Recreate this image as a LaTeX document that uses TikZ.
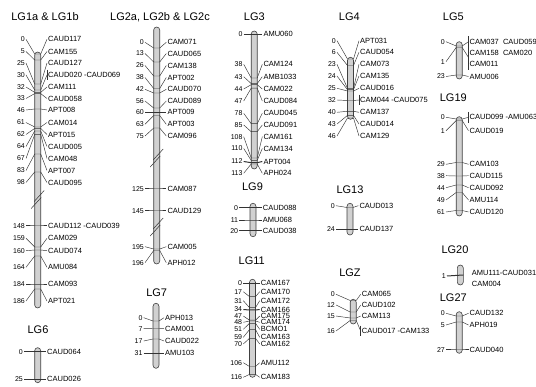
\documentclass[tikz,border=0pt]{standalone}
\usepackage{fontspec}
\setmainfont{Liberation Sans}
\usepackage{tikz}

\tikzset{
  bar/.style={draw=black!75, fill=black!18, line width=0.6pt, rounded corners=3pt},
  ln/.style={draw=black!80, line width=0.45pt},
  num/.style={anchor=east, inner sep=1pt, font=\fontsize{7}{8}\selectfont, text height=5pt, text depth=0pt},
  nam/.style={anchor=west, inner sep=1pt, font=\fontsize{7.5}{8}\selectfont, text height=5.4pt, text depth=0pt},
  ttl/.style={font=\fontsize{11}{12}\selectfont}
}

% current group: bar centre, number anchor, name anchor
\newcommand{\setlg}[3]{\def\cx{#1}\def\nx{#2}\def\mx{#3}}
\newcommand{\chromo}[2]{\draw[bar] (\cx-3,#1) rectangle (\cx+3,#2);}
\newcommand{\locus}[6]{%
  \node[num] (#1n) at (\nx,#3) {#4};
  \node[nam] (#1m) at (\mx,#3) {#5};
  \coordinate (#1l) at (\cx-3,#2);
  \coordinate (#1r) at (\cx+3,#2);
  \draw[ln, line width=#6pt] (#1n.east) -- (#1l) -- (#1r) -- (#1m.west);
}
\newcommand{\cut}[1]{\draw[ln, line width=0.5pt] (\cx-6.5,#1+9) -- (\cx+3.5,#1-2) (\cx-3.5,#1+2) -- (\cx+6.5,#1-9);}
\newcommand{\bkt}[2]{\draw[ln] ([yshift=1.5pt]#1.north west) -- ([yshift=-1.5pt]#2.south west);}

\begin{document}
\begin{tikzpicture}[x=1pt, y=-1pt]
    \useasboundingbox[fill=white] (0,0) rectangle (536,387);

    % LG1a & LG1b
    \setlg{37.7}{26}{47}
    \node[ttl] (t1) at (45,17) {LG1a \& LG1b};
    \chromo{52}{308}
    \cut{199.5}
    \foreach \b/\l/\n/\m/\w [count=\k] in {54/39.3/0/CAUD117/0.45, 60/51.5/5/CAM155/0.45,
        84/63/25/CAUD127/0.45, 90/75/30/CAUD020 -CAUD069/0.45, 92.4/87/32/CAM111/0.45,
        93.6/98.5/33/CAUD058/0.45, 109/110/46/APT008/0.45, 127/122.5/61/CAM014/0.45,
        128.4/134.5/62/APT015/0.45, 131/146.5/64/CAUD005/0.45, 134.4/158.5/67/CAM048/0.45,
        154/170.5/83/APT007/0.45, 172/182.5/98/CAUD095/0.45,
        226/226/148/CAUD112 -CAUD039/1, 247/238.3/159/CAM029/0.45, 250/250.7/160/CAUD074/0.45,
        256/267.3/164/AMU084/0.45, 284/284/184/CAM093/0.45, 289/301/186/APT021/0.45}
      \locus{a\k}{\b}{\l}{\n}{\m}{\w};
    \bkt{a4m}{a4m}

    % LG6
    \setlg{37.7}{24}{46}
    \node[ttl] (t6) at (38,330) {LG6};
    \chromo{347.7}{382.7}
    \foreach \b/\l/\n/\m/\w [count=\k] in {351.7/351.7/0/CAUD064/1, 379.3/379.3/25/CAUD026/1}
      \locus{f\k}{\b}{\l}{\n}{\m}{\w};

    % LG2a, LG2b & LG2c
    \setlg{156.7}{145}{166.3}
    \node[ttl] (t2) at (160,17) {LG2a, LG2b \& LG2c};
    \chromo{27}{264}
    \cut{158}
    \cut{227}
    \foreach \b/\l/\n/\m/\w [count=\k] in {48/42.3/0/CAM071/0.45, 62/53.5/13/CAUD065/0.45,
        76/65.5/26/CAM138/0.45, 88.5/77.5/38/APT002/0.45, 93/89.3/42/CAUD070/0.45,
        108/101/56/CAUD089/0.45, 112.3/112.3/60/APT009/0.45, 115.5/124.3/63/APT003/0.45,
        128/136/75/CAM096/0.45, 189/189/125/CAM087/1, 211/211/145/CAUD129/1,
        249/246.7/195/CAM005/0.45, 250.5/262.7/196/APH012/0.45}
      \locus{b\k}{\b}{\l}{\n}{\m}{\w};

    % LG7
    \setlg{156}{143.7}{164}
    \node[ttl] (t7) at (156.7,292.7) {LG7};
    \chromo{303.3}{368.3}
    \foreach \b/\l/\n/\m/\w [count=\k] in {321/317.7/0/APH013/0.45, 328.5/328.7/7/CAM001/0.45,
        339/341/17/CAUD022/0.45, 353.3/353.3/31/AMU103/1}
      \locus{g\k}{\b}{\l}{\n}{\m}{\w};

    % LG3
    \setlg{254.2}{243.7}{262.3}
    \node[ttl] (t3) at (254.3,17) {LG3};
    \chromo{31}{169}
    \foreach \b/\l/\n/\m/\w [count=\k] in {34.3/34.3/0/AMU060/1, 78/64.3/38/CAM124/0.45,
        83.6/76.7/43/AMB1033/0.45, 84.7/89/44/CAM022/0.45, 88.2/101/47/CAUD084/0.45,
        123.7/113.3/78/CAUD045/0.45, 131.7/125/85/CAUD091/0.45, 158/136.7/108/CAM161/0.45,
        160.4/148.5/110/CAM134/0.45, 162.7/161.5/112/APT004/1, 164/173.3/113/APH024/0.45}
      \locus{c\k}{\b}{\l}{\n}{\m}{\w};

    % LG9
    \setlg{253}{239.3}{261.7}
    \node[ttl] (t9) at (252.5,186.7) {LG9};
    \chromo{203.3}{236.7}
    \foreach \b/\l/\n/\m/\w [count=\k] in {207.7/207.7/0/CAUD088/1, 220/220/11/AMU068/0.45,
        230.7/230.7/20/CAUD038/0.45}
      \locus{i\k}{\b}{\l}{\n}{\m}{\w};

    % LG11
    \setlg{252.5}{243.3}{259.7}
    \node[ttl] (t11) at (251.7,260.7) {LG11};
    \chromo{279.3}{377.3}
    \foreach \b/\l/\n/\m/\w [count=\k] in {283.3/283.3/0/CAM167/1, 296.6/291.7/17/CAM170/0.45,
        307.6/300.7/31/CAM172/0.45, 310/309.5/34/CAM166/1, 320.2/316/47/CAM175/0.45,
        321/322.3/48/CAM174/0.45, 323.3/329.3/51/BCMO1/0.45, 329.6/337.3/59/CAM163/0.45,
        338.3/344/70/CAM162/0.45, 366.5/362.7/106/AMU112/0.45, 374.4/377.3/116/CAM183/0.45}
      \locus{k\k}{\b}{\l}{\n}{\m}{\w};

    % LG4
    \setlg{350.5}{337}{359}
    \node[ttl] (t4) at (349.3,17) {LG4};
    \chromo{57.3}{119.3}
    \foreach \b/\l/\n/\m/\w [count=\k] in {59/40.7/0/APT031/0.45, 65.5/52.3/6/CAUD054/0.45,
        88.4/64.3/23/CAM073/0.45, 89.7/76/24/CAM135/0.45, 91/88.3/25/CAUD016/0.45,
        100.5/100/32/CAM044 -CAUD075/0.45, 111.3/112.3/40/CAM137/0.45,
        115.4/124/43/CAUD014/0.45, 118/136/46/CAM129/0.45}
      \locus{d\k}{\b}{\l}{\n}{\m}{\w};
    \bkt{d6m}{d6m}

    % LG13
    \setlg{350}{336}{358.3}
    \node[ttl] (t13) at (350,190) {LG13};
    \chromo{203.3}{235}
    \foreach \b/\l/\n/\m/\w [count=\k] in {207.5/205.7/0/CAUD013/0.45, 229.3/229.3/24/CAUD137/1}
      \locus{m\k}{\b}{\l}{\n}{\m}{\w};

    % LGZ
    \setlg{353.2}{336}{360.7}
    \node[ttl] (tz) at (350,272.7) {LGZ};
    \chromo{299.3}{324}
    \foreach \b/\l/\n/\m/\w [count=\k] in {300.5/294.3/0/CAM065/0.45, 312/305/12/CAUD102/0.45,
        318/316/15/CAM113/0.45, 320.5/331/16/CAUD017 -CAM133/0.45}
      \locus{z\k}{\b}{\l}{\n}{\m}{\w};
    \bkt{z4m}{z4m}

    % LG5
    \setlg{459.2}{446}{468.5}
    \node[ttl] (t5) at (453.3,17) {LG5};
    \chromo{41.7}{79}
    \node[num] (e1n) at (\nx,41.7) {0};
    \node[nam] (e1m) at (\mx,41.7) {CAM037\ \ CAUD059};
    \node[num] (e2n) at (\nx,61.7) {1};
    \node[nam] (e2m) at (\mx,52.7) {CAM158\ \ CAM020};
    \node[nam] (e2b) at (\mx,64.3) {CAM011};
    \coordinate (e1l) at (\cx-3,46);   \coordinate (e1r) at (\cx+3,46);
    \coordinate (e2l) at (\cx-3,47.5); \coordinate (e2r) at (\cx+3,47.5);
    \draw[ln] (e1n.east) -- (e1l) -- (e1r) -- (e1m.west);
    \draw[ln] (e2n.east) -- (e2l) -- (e2r) -- (\mx,57.5);
    \bkt{e1m}{e1m}
    \bkt{e2m}{e2b}
    \locus{e3}{75}{76.5}{23}{AMU006}{0.45}

    % LG19
    \node[ttl] (t19) at (453.3,97.7) {LG19};
    \chromo{116.7}{216}
    \foreach \b/\l/\n/\m/\w [count=\k] in {119/117.3/0/CAUD099 -AMU063/0.45, 120.5/130.7/1/CAUD019/0.45,
        162.5/164.3/29/CAM103/0.45, 176/175.7/38/CAUD115/0.45, 185/187.7/44/CAUD092/0.45,
        192.5/200/49/AMU114/0.45, 210.5/212/61/CAUD120/0.45}
      \locus{s\k}{\b}{\l}{\n}{\m}{\w};
    \bkt{s1m}{s1m}

    % LG20
    \setlg{460.3}{447}{470.7}
    \node[ttl] (t20) at (455,249.3) {LG20};
    \chromo{265}{285}
    \node[num] (u1n) at (\nx,276) {1};
    \coordinate (u1r) at (\cx+3,275);
    \draw[ln, line width=1pt] (u1n.east) -- (u1r);
    \node[nam] (u1m) at (\mx,273.3) {AMU111-CAUD031};
    \node[nam] (u2m) at (\mx,284) {CAM004};

    % LG27
    \setlg{459.2}{446}{468.5}
    \node[ttl] (t27) at (453.3,297.7) {LG27};
    \chromo{311.7}{353.3}
    \foreach \b/\l/\n/\m/\w [count=\k] in {316/313.3/0/CAUD132/0.45, 322/325/5/APH019/0.45,
        350/350/27/CAUD040/1}
      \locus{w\k}{\b}{\l}{\n}{\m}{\w};
\end{tikzpicture}
\end{document}
